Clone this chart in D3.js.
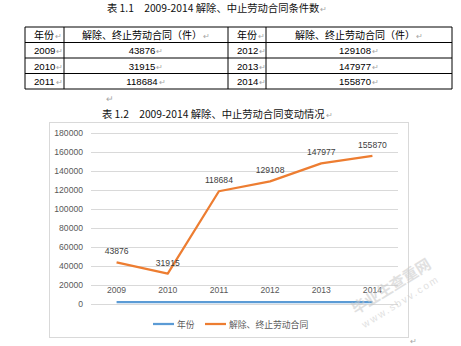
<!DOCTYPE html>
<html>
<head>
<meta charset="utf-8">
<script src="https://cdn.jsdelivr.net/npm/d3@7"></script>
<style>
  html, body { margin: 0; padding: 0; background: #fff; }
  svg { display: block; }
</style>
</head>
<body>
<div id="chart"></div>
<script>
// Contract termination cases per year
const years = [2009, 2010, 2011, 2012, 2013, 2014];
const cases = [43876, 31915, 118684, 129108, 147977, 155870];
const yTicks = [0, 20000, 40000, 60000, 80000, 100000, 120000, 140000, 160000, 180000];
const seriesNames = ["年份", "解除、终止劳动合同"];
const tableTitle = "表 1.1　2009-2014 解除、中止劳动合同条件数";
const chartTitle = "表 1.2　2009-2014 解除、中止劳动合同变动情况";
const headerYear = "年份";
const headerCases = "解除、终止劳动合同（件）";

const W = 461, H = 346;
const CJK = "'Noto Sans CJK SC', 'Noto Sans', sans-serif";
const NUM = "'Liberation Sans', 'Noto Sans', sans-serif";
const MARK = "#a6a6a6";

const svg = d3.select("#chart").append("svg")
  .attr("width", W).attr("height", H)
  .style("font-family", CJK);
svg.append("rect").attr("width", W).attr("height", H).attr("fill", "#fff");

// text helper that appends a grey paragraph mark after the content
function markedText(g, x, y, str, opts) {
  const t = g.append("text").attr("x", x).attr("y", y)
    .attr("font-size", opts.size).attr("fill", opts.fill || "#000")
    .attr("text-anchor", opts.anchor || "start")
    .style("font-family", opts.family || CJK);
  t.append("tspan").text(str);
  t.append("tspan").attr("fill", MARK).attr("font-size", opts.size * 0.8).attr("dx", 1).text("↵");
  return t;
}

// ---- Table 1.1 ----
markedText(svg, 107, 12, tableTitle, {size: 10.3, fill: "#111"});

const tbl = svg.append("g");
const colX = [25, 64, 228, 266, 452];
const rowY = d3.range(5).map(i => 27 + i * 15.5);
// grid
rowY.forEach(y => tbl.append("line").attr("x1", colX[0]).attr("x2", colX[4])
  .attr("y1", y).attr("y2", y).attr("stroke", "#000").attr("stroke-width", 1));
colX.forEach(x => tbl.append("line").attr("x1", x).attr("x2", x)
  .attr("y1", rowY[0]).attr("y2", rowY[4]).attr("stroke", "#000").attr("stroke-width", 1));

const tblFont = {size: 10};
[0, 1].forEach(half => {
  const cx0 = colX[half * 2], cx1 = colX[half * 2 + 1], cx2 = colX[half * 2 + 2];
  markedText(tbl, cx0 + 9, rowY[0] + 11.5, headerYear, tblFont);
  markedText(tbl, (cx1 + cx2) / 2, rowY[0] + 11.5, headerCases, {size: 10, anchor: "middle"});
  for (let r = 0; r < 3; r++) {
    const i = half * 3 + r;
    markedText(tbl, cx0 + 9, rowY[r + 1] + 11.5, String(years[i]), {size: 9.6, family: NUM});
    markedText(tbl, (cx1 + cx2) / 2, rowY[r + 1] + 11.5, String(cases[i]), {size: 9.6, anchor: "middle", family: NUM});
  }
});

// ---- Chart 1.2 ----
svg.append("text").attr("x", 106).attr("y", 102).attr("font-size", 9).attr("fill", MARK).text("↵");
markedText(svg, 102, 118, chartTitle, {size: 10.3, fill: "#111"});

// chart area frame
svg.append("rect").attr("x", 49.5).attr("y", 122.5).attr("width", 359).attr("height", 215)
  .attr("fill", "#fff").attr("stroke", "#d9d9d9").attr("stroke-width", 1);

const plotL = 91, plotR = 398;
const x = d3.scaleBand().domain(years).range([plotL, plotR]).padding(0);
const y = d3.scaleLinear().domain([0, 180000]).range([304, 133]);
const xc = d => x(d) + x.bandwidth() / 2;

// gridlines and value axis labels
const yAxis = d3.axisLeft(y).tickValues(yTicks).tickSize(-(plotR - plotL)).tickPadding(8)
  .tickFormat(d3.format("d"));
const yg = svg.append("g").attr("transform", `translate(${plotL},0)`).call(yAxis);
yg.select(".domain").remove();
yg.selectAll(".tick line").attr("stroke", "#d9d9d9").attr("stroke-width", 1);
yg.selectAll(".tick text").attr("fill", "#595959").attr("font-size", 8.6)
  .style("font-family", NUM);

// category labels
const xAxis = d3.axisBottom(x).tickSize(0).tickPadding(0);
const xg = svg.append("g").attr("transform", `translate(0,${y(0) - 17})`).call(xAxis);
xg.select(".domain").remove();
xg.selectAll(".tick text").attr("fill", "#595959").attr("font-size", 8.6)
  .style("font-family", NUM);

// series lines
const line = d3.line().x((d, i) => xc(years[i])).y(d => y(d));
svg.append("path").datum(years).attr("d", line)
  .attr("fill", "none").attr("stroke", "#5b9bd5").attr("stroke-width", 2.25)
  .attr("stroke-linejoin", "round");
svg.append("path").datum(cases).attr("d", line)
  .attr("fill", "none").attr("stroke", "#ed7d31").attr("stroke-width", 2.25)
  .attr("stroke-linejoin", "round");

// data labels above each point
svg.append("g").selectAll("text").data(cases).join("text")
  .attr("x", (d, i) => xc(years[i]))
  .attr("y", d => y(d) - 8)
  .attr("text-anchor", "middle")
  .attr("font-size", 8.6).attr("fill", "#404040")
  .style("font-family", NUM)
  .text(d => d);

// legend
const legend = svg.append("g").attr("transform", "translate(0,324)");
const legendItems = [
  {name: seriesNames[0], color: "#5b9bd5", x: 153},
  {name: seriesNames[1], color: "#ed7d31", x: 205}
];
legendItems.forEach(it => {
  legend.append("line").attr("x1", it.x).attr("x2", it.x + 21).attr("y1", 0).attr("y2", 0)
    .attr("stroke", it.color).attr("stroke-width", 2.25);
  legend.append("text").attr("x", it.x + 24).attr("y", 3.5)
    .attr("font-size", 8.8).attr("fill", "#595959").text(it.name);
});

// paragraph mark after the chart
svg.append("text").attr("x", 410).attr("y", 344).attr("font-size", 8).attr("fill", MARK).text("↵");

// faint site watermark
const wm = svg.append("g").attr("transform", "translate(394,291) rotate(-32)")
  .attr("fill", "#c8c8c8").attr("opacity", 0.55);
wm.append("text").attr("text-anchor", "middle").attr("font-size", 15).attr("font-weight", "bold")
  .text("毕业生查重网");
wm.append("text").attr("text-anchor", "middle").attr("y", 16).attr("font-size", 10)
  .attr("letter-spacing", 2).style("font-family", NUM).text("www.sbvv.com");
</script>
</body>
</html>
